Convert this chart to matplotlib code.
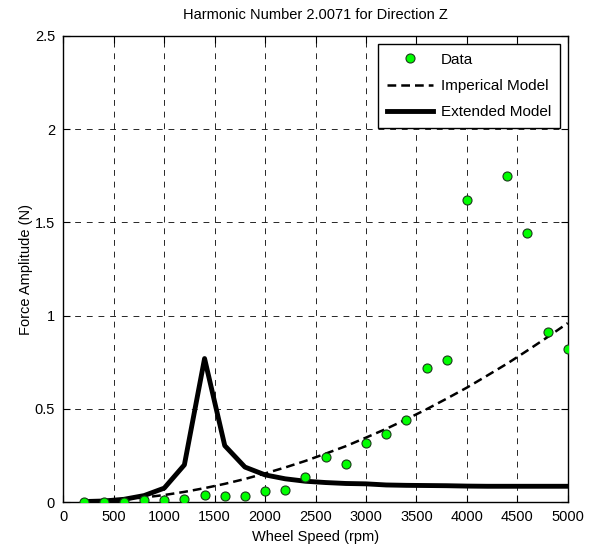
import numpy as np
import matplotlib
matplotlib.use('Agg')
import matplotlib.pyplot as plt

plt.rcParams['font.family'] = ['Liberation Sans', 'DejaVu Sans']

# measured data (no point visible at 4200)
data_rpm = [200, 400, 600, 800, 1000, 1200, 1400, 1600, 1800, 2000, 2200, 2400,
            2600, 2800, 3000, 3200, 3400, 3600, 3800, 4000, 4400, 4600, 4800, 5000]
data_force = [0.003, 0.003, 0.0, 0.009, 0.009, 0.018, 0.038, 0.032, 0.032, 0.060, 0.067, 0.135,
              0.243, 0.207, 0.316, 0.366, 0.440, 0.718, 0.761, 1.618, 1.750, 1.442, 0.911, 0.820]

# model curves
model_rpm = [200, 400, 600, 800, 1000, 1200, 1400, 1600, 1800, 2000, 2200, 2400, 2600,
             2800, 3000, 3200, 3400, 3600, 3800, 4000, 4200, 4400, 4600, 4800, 5000]
imperical = [0.002, 0.006, 0.014, 0.025, 0.038, 0.055, 0.075, 0.098, 0.124, 0.154, 0.186,
             0.221, 0.260, 0.300, 0.346, 0.393, 0.444, 0.498, 0.555, 0.614, 0.678, 0.743,
             0.813, 0.885, 0.960]
extended = [0.003, 0.006, 0.015, 0.035, 0.075, 0.200, 0.770, 0.303, 0.188, 0.146, 0.125,
            0.112, 0.105, 0.100, 0.098, 0.092, 0.090, 0.089, 0.088, 0.086, 0.085, 0.085,
            0.085, 0.085, 0.085]

fig = plt.figure(figsize=(5.92, 5.53), dpi=100)
ax = fig.add_axes([0.107, 0.092, 0.852, 0.843])

ax.plot(data_rpm, data_force, 'o', color='#00ff00', markeredgecolor='#1a3a1a',
        markersize=6.5, markeredgewidth=0.8, label='Data', zorder=4)
ax.plot(model_rpm, imperical, '--', color='black', lw=1.8, dashes=(3.5, 2), label='Imperical Model', zorder=3)
ax.plot(model_rpm, extended, '-', color='black', lw=3.5, label='Extended Model', zorder=3)

ax.set_xlim(0, 5000)
ax.set_ylim(0, 2.5)
ax.set_xticks(np.arange(0, 5001, 500))
ax.set_yticks([0, 0.5, 1, 1.5, 2, 2.5])
ax.set_yticklabels(['0', '0.5', '1', '1.5', '2', '2.5'])
ax.tick_params(direction='in', top=True, right=True, labelsize=10.5, length=5, width=0.8, pad=6)
ax.grid(True, color='black', linestyle=(0, (6, 6)), lw=0.7, alpha=0.85)
for s in ax.spines.values():
    s.set_linewidth(1.0)

ax.set_title('Harmonic Number 2.0071 for Direction Z', fontsize=10.5, pad=12)
ax.set_xlabel('Wheel Speed (rpm)', fontsize=10.5, labelpad=4)
ax.set_ylabel('Force Amplitude (N)', fontsize=10.5, labelpad=1)

leg = ax.legend(loc='upper right', fontsize=11, fancybox=False, framealpha=1,
                edgecolor='black', handlelength=3, borderaxespad=0.5,
                labelspacing=0.8, borderpad=0.6, handletextpad=0.5)
leg.get_frame().set_linewidth(1.0)

fig.savefig('out.png', dpi=100)
